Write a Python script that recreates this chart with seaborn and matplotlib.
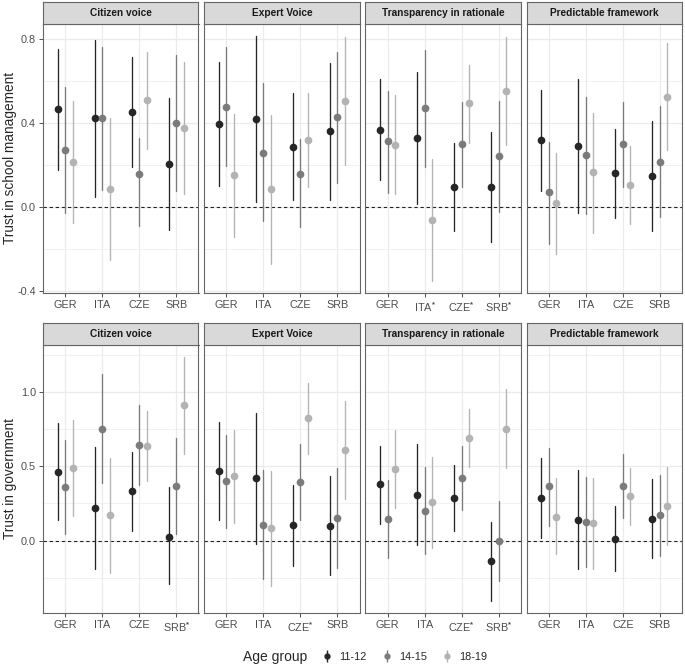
import numpy as np
import pandas as pd
import matplotlib
matplotlib.use("Agg")
import matplotlib.pyplot as plt
import seaborn as sns
from matplotlib.lines import Line2D
from matplotlib.legend_handler import HandlerTuple

countries = ["GER", "ITA", "CZE", "SRB"]
ages = ["11-12", "14-15", "18-19"]
facets = ["Citizen voice", "Expert Voice", "Transparency in rationale", "Predictable framework"]
age_colors = ["#262626", "#7b7b7b", "#b3b3b3"]

# order of every list: GER(11-12,14-15,18-19), ITA(...), CZE(...), SRB(...)
# --- Trust in school management ---
sch_citizen_est = [0.464, 0.273, 0.212, 0.422, 0.422, 0.086, 0.454, 0.159, 0.507, 0.206, 0.398, 0.375]
sch_citizen_lo = [0.174, -0.030, -0.077, 0.046, 0.081, -0.252, 0.191, -0.092, 0.277, -0.112, 0.075, 0.059]
sch_citizen_hi = [0.752, 0.572, 0.505, 0.795, 0.763, 0.425, 0.716, 0.330, 0.739, 0.518, 0.725, 0.692]

sch_expert_est = [0.394, 0.478, 0.150, 0.419, 0.258, 0.083, 0.287, 0.158, 0.319, 0.360, 0.427, 0.505]
sch_expert_lo = [0.100, 0.194, -0.145, 0.022, -0.069, -0.271, 0.033, -0.097, 0.094, 0.033, 0.113, 0.199]
sch_expert_hi = [0.692, 0.763, 0.441, 0.813, 0.588, 0.437, 0.542, 0.322, 0.542, 0.687, 0.736, 0.808]

sch_transp_est = [0.367, 0.312, 0.295, 0.330, 0.470, -0.064, 0.097, 0.298, 0.494, 0.096, 0.241, 0.553]
sch_transp_lo = [0.126, 0.067, 0.059, 0.014, 0.191, -0.352, -0.113, 0.094, 0.306, -0.167, -0.024, 0.293]
sch_transp_hi = [0.609, 0.553, 0.532, 0.644, 0.749, 0.226, 0.306, 0.500, 0.676, 0.357, 0.505, 0.811]

sch_predict_est = [0.319, 0.070, 0.018, 0.290, 0.247, 0.164, 0.161, 0.298, 0.105, 0.147, 0.215, 0.524]
sch_predict_lo = [0.075, -0.177, -0.223, -0.029, -0.033, -0.124, -0.053, 0.094, -0.080, -0.113, -0.048, 0.269]
sch_predict_hi = [0.558, 0.309, 0.258, 0.609, 0.524, 0.448, 0.373, 0.500, 0.290, 0.410, 0.480, 0.781]

# --- Trust in government ---
gov_citizen_est = [0.462, 0.359, 0.489, 0.220, 0.753, 0.173, 0.334, 0.646, 0.639, 0.027, 0.370, 0.913]
gov_citizen_lo = [0.137, 0.045, 0.166, -0.190, 0.388, -0.217, 0.063, 0.374, 0.401, -0.296, 0.045, 0.585]
gov_citizen_hi = [0.794, 0.679, 0.809, 0.630, 1.119, 0.556, 0.599, 0.910, 0.870, 0.359, 0.688, 1.235]

gov_expert_est = [0.469, 0.399, 0.435, 0.419, 0.108, 0.083, 0.103, 0.395, 0.823, 0.099, 0.152, 0.612]
gov_expert_lo = [0.137, 0.085, 0.121, -0.020, -0.260, -0.303, -0.170, 0.137, 0.585, -0.235, -0.184, 0.278]
gov_expert_hi = [0.796, 0.709, 0.742, 0.857, 0.478, 0.466, 0.372, 0.648, 1.063, 0.433, 0.487, 0.939]

gov_transp_est = [0.379, 0.146, 0.482, 0.309, 0.200, 0.260, 0.285, 0.419, 0.691, -0.139, 0.000, 0.753]
gov_transp_lo = [0.112, -0.117, 0.220, -0.029, -0.094, -0.049, 0.063, 0.206, 0.496, -0.406, -0.271, 0.491]
gov_transp_hi = [0.639, 0.406, 0.742, 0.652, 0.496, 0.565, 0.507, 0.635, 0.886, 0.126, 0.267, 1.020]

gov_predict_est = [0.285, 0.365, 0.161, 0.141, 0.126, 0.117, 0.011, 0.368, 0.300, 0.146, 0.173, 0.235]
gov_predict_lo = [0.018, 0.101, -0.094, -0.195, -0.177, -0.191, -0.206, 0.152, 0.108, -0.119, -0.101, -0.031]
gov_predict_hi = [0.556, 0.621, 0.419, 0.478, 0.428, 0.419, 0.235, 0.581, 0.491, 0.413, 0.442, 0.498]

# tick labels ("*" = significant)
sch_ticklabels = [["GER", "ITA", "CZE", "SRB"], ["GER", "ITA", "CZE", "SRB"],
                  ["GER", "ITA*", "CZE*", "SRB*"], ["GER", "ITA", "CZE", "SRB"]]
gov_ticklabels = [["GER", "ITA", "CZE", "SRB*"], ["GER", "ITA", "CZE*", "SRB"],
                  ["GER", "ITA", "CZE*", "SRB*"], ["GER", "ITA", "CZE", "SRB"]]

sch_yticks = [-0.4, 0.0, 0.4, 0.8]
gov_yticks = [0.0, 0.5, 1.0]

sns.set_style("white")
plt.rcParams["font.family"] = ["Liberation Sans", "DejaVu Sans"]
plt.rcParams["mathtext.fontset"] = "custom"
plt.rcParams["mathtext.rm"] = "Liberation Sans"
plt.rcParams["mathtext.it"] = "Liberation Sans"
plt.rcParams["mathtext.bf"] = "Liberation Sans:bold"


def long_frame(est, lo, hi):
    # three rows per estimate: median -> estimate, full range -> interval
    rows = []
    for i, c in enumerate(countries):
        for j, a in enumerate(ages):
            k = i * 3 + j
            for v in (lo[k], est[k], hi[k]):
                rows.append({"country": c, "age": a, "value": v})
    return pd.DataFrame(rows)


W, H = 685, 667
fig = plt.figure(figsize=(W / 100, H / 100), dpi=100)

rows_spec = [
    dict(data=[(sch_citizen_est, sch_citizen_lo, sch_citizen_hi),
               (sch_expert_est, sch_expert_lo, sch_expert_hi),
               (sch_transp_est, sch_transp_lo, sch_transp_hi),
               (sch_predict_est, sch_predict_lo, sch_predict_hi)],
         labels=sch_ticklabels, yticks=sch_yticks, ylabel="Trust in school management",
         strip_top=2, panel_top=24, panel_bot=293),
    dict(data=[(gov_citizen_est, gov_citizen_lo, gov_citizen_hi),
               (gov_expert_est, gov_expert_lo, gov_expert_hi),
               (gov_transp_est, gov_transp_lo, gov_transp_hi),
               (gov_predict_est, gov_predict_lo, gov_predict_hi)],
         labels=gov_ticklabels, yticks=gov_yticks, ylabel="Trust in government",
         strip_top=323, panel_top=345, panel_bot=613),
]

border = "#666666"
grid_c = "#EBEBEB"

for spec in rows_spec:
    allv = np.concatenate([np.r_[lo, hi] for _, lo, hi in spec["data"]])
    rng = allv.max() - allv.min()
    ylim = (allv.min() - 0.05 * rng, allv.max() + 0.05 * rng)
    step = spec["yticks"][1] - spec["yticks"][0]
    minor = [t + step / 2 for t in [spec["yticks"][0] - step] + spec["yticks"]]
    minor = [m for m in minor if ylim[0] < m < ylim[1]]

    for col in range(4):
        left = 43 + col * 161.2
        width = 155.5
        ax = fig.add_axes([left / W, 1 - spec["panel_bot"] / H, width / W,
                           (spec["panel_bot"] - spec["panel_top"]) / H])
        est, lo, hi = spec["data"][col]
        df = long_frame(est, lo, hi)
        sns.pointplot(data=df, x="country", y="value", hue="age",
                      order=countries, hue_order=ages, palette=age_colors,
                      estimator="median", errorbar=("pi", 100),
                      dodge=0.4, linestyle="none", markers="o",
                      markersize=3.5, err_kws={"linewidth": 0.95},
                      legend=False, ax=ax)
        ax.axhline(0, color="#222222", ls=(0, (3, 2.5)), lw=0.8, zorder=1)
        ax.set_xlim(-0.6, 3.6)
        ax.set_ylim(*ylim)
        ax.set_yticks(spec["yticks"])
        ax.set_yticks(minor, minor=True)
        ax.grid(which="major", color=grid_c, lw=0.9)
        ax.yaxis.grid(True, which="minor", color=grid_c, lw=0.5)
        ax.set_axisbelow(True)
        ax.set_xlabel("")
        ax.set_ylabel("")
        ax.set_xticks(range(4))
        ax.set_xticklabels([t.replace("*", r"$^{\mathbf{*}}$") for t in spec["labels"][col]],
                           color="#4D4D4D", fontsize=7.8)
        ax.tick_params(axis="x", length=3, width=0.6, color="#333333", pad=2, bottom=True)
        ax.tick_params(axis="y", which="minor", length=0)
        if col == 0:
            ax.set_yticklabels([f"{t:.1f}" for t in spec["yticks"]], color="#4D4D4D", fontsize=7.8)
            ax.tick_params(axis="y", which="major", length=3, width=0.6, color="#333333", pad=2, left=True)
        else:
            ax.set_yticklabels([])
            ax.tick_params(axis="y", which="major", length=0)
        for s in ax.spines.values():
            s.set_visible(True)
            s.set_color(border)
            s.set_linewidth(0.8)

        sax = fig.add_axes([left / W, 1 - spec["panel_top"] / H, width / W,
                            (spec["panel_top"] - spec["strip_top"]) / H])
        sax.set_facecolor("#D9D9D9")
        sax.set_xticks([])
        sax.set_yticks([])
        for s in sax.spines.values():
            s.set_visible(True)
            s.set_color(border)
            s.set_linewidth(0.8)
        sax.text(0.5, 0.48, facets[col], ha="center", va="center",
                 fontsize=7.3, fontweight="bold", color="#1A1A1A", transform=sax.transAxes)

    # row title on the left
    mid = (spec["panel_top"] + spec["panel_bot"]) / 2
    fig.text(10 / W, 1 - mid / H, spec["ylabel"], rotation=90, fontsize=9.8,
             ha="center", va="center")

# legend at the bottom
fig.text(243 / W, 1 - 657 / H, "Age group", fontsize=10, va="center", ha="left")
handles = [(Line2D([], [], marker="|", markersize=9, mew=1.0, color=c, linestyle="none"),
            Line2D([], [], marker="o", markersize=3.5, color=c, linestyle="none")) for c in age_colors]
fig.legend(handles, ages, loc="center left", bbox_to_anchor=(312 / W, 1 - 657 / H),
           ncol=3, frameon=False, fontsize=7.8, handlelength=1.0, handletextpad=0.6,
           columnspacing=1.4, handler_map={tuple: HandlerTuple(ndivide=1)})

fig.savefig("out.png", dpi=100)
